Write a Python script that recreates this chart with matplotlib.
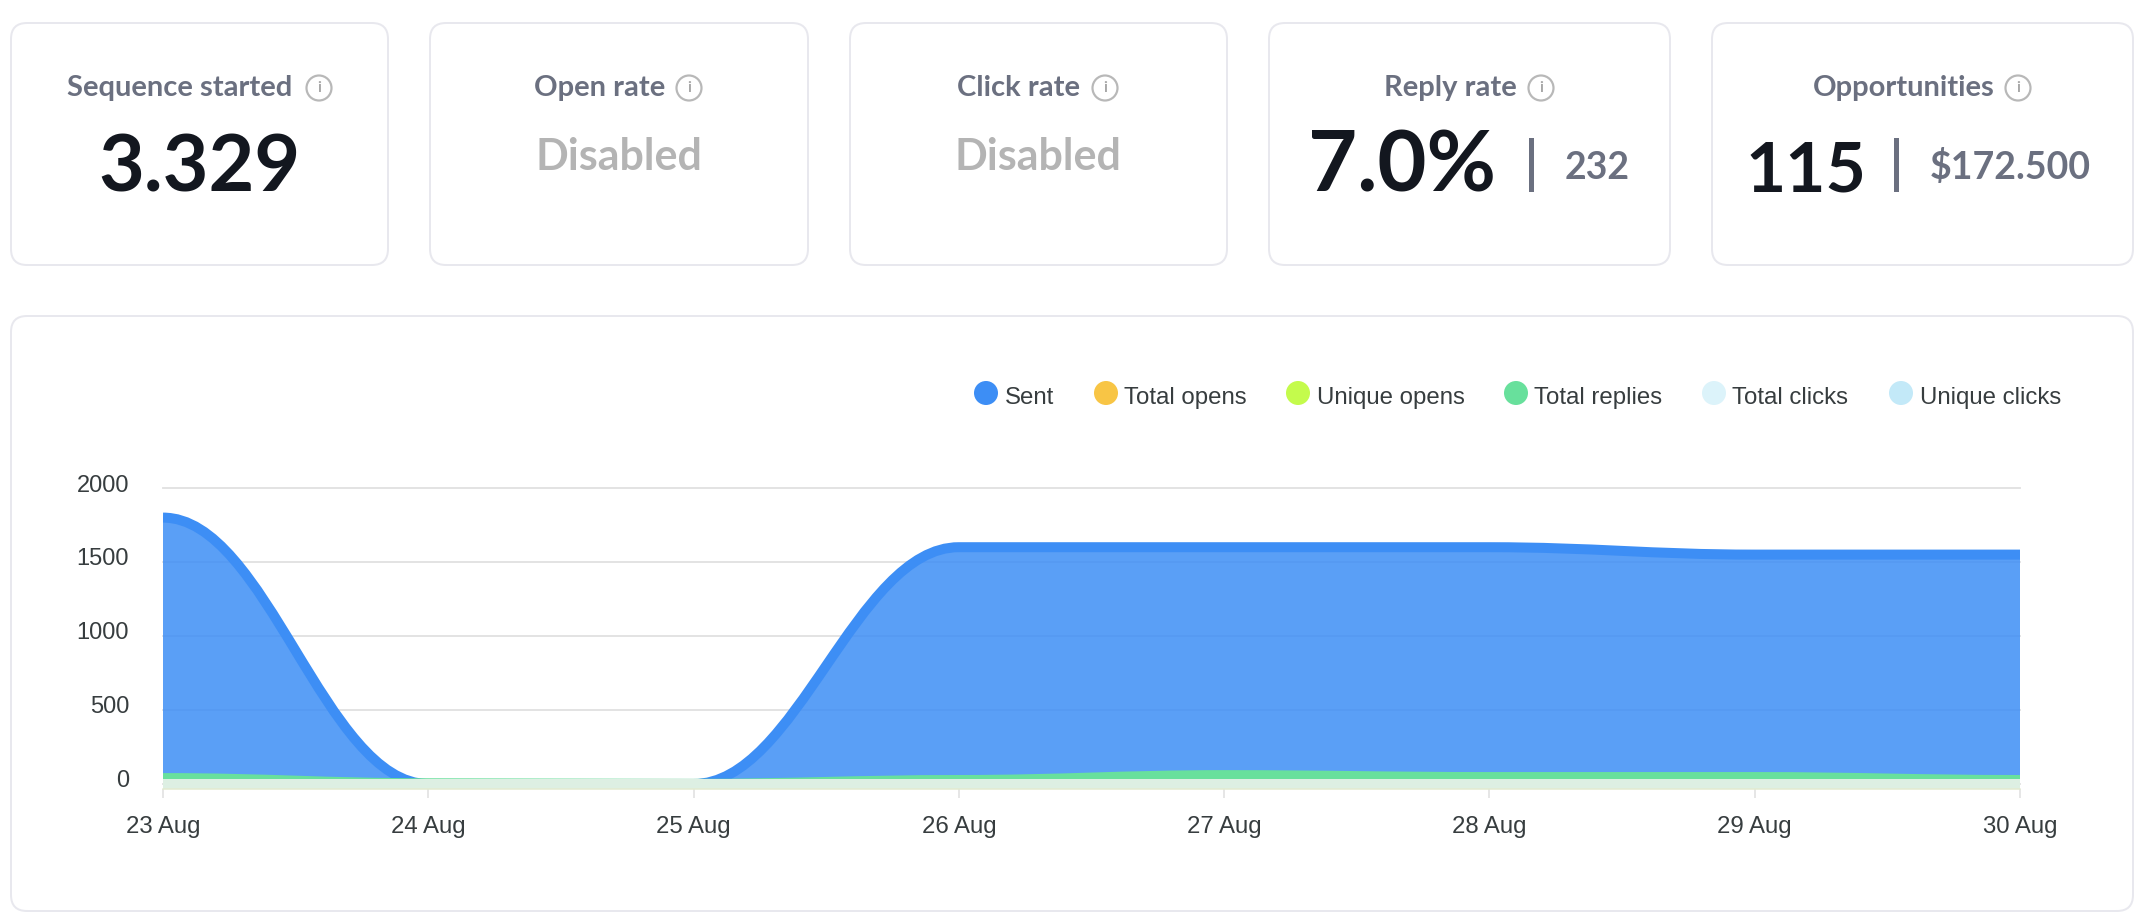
import matplotlib
matplotlib.use("Agg")
import matplotlib.pyplot as plt
from matplotlib.patches import FancyBboxPatch, Circle, PathPatch, Rectangle
from matplotlib.path import Path
from matplotlib.transforms import ScaledTranslation

W, H = 2142, 918
DPI = 100
HEAD = ["Lato", "DejaVu Sans"]
BODY = ["Liberation Sans", "DejaVu Sans"]

days = ["23 Aug", "24 Aug", "25 Aug", "26 Aug", "27 Aug", "28 Aug", "29 Aug", "30 Aug"]
sent = [1800, 0, 0, 1600, 1600, 1600, 1550, 1550]
total_opens = [0, 0, 0, 0, 0, 0, 0, 0]
unique_opens = [0, 0, 0, 0, 0, 0, 0, 0]
total_replies = [40, 5, 1, 27, 60, 47, 47, 27]
total_clicks = [0, 0, 0, 0, 0, 0, 0, 0]
unique_clicks = [0, 0, 0, 0, 0, 0, 0, 0]
y_ticks = [0, 500, 1000, 1500, 2000]
series_names = ["Sent", "Total opens", "Unique opens", "Total replies", "Total clicks", "Unique clicks"]
series_colors = ["#3d8ef5", "#f8c545", "#c4fb4c", "#68e09c", "#dcf3fa", "#c3e9f8"]
card_titles = ["Sequence started", "Open rate", "Click rate", "Reply rate", "Opportunities"]

INK = "#13171f"
SLATE = "#6b7080"
MUTED = "#b4b4b4"
BORDER = "#e8e8ee"
GRID = "#e0e0e0"
LABEL = "#373d3f"
BAND = "#ddefe3"

fig = plt.figure(figsize=(W / DPI, H / DPI), dpi=DPI, facecolor="white")
page = fig.add_axes([0, 0, 1, 1], zorder=0)
page.set_xlim(0, W)
page.set_ylim(H, 0)
page.axis("off")


def px(n):
    return n * 72 / DPI


def box(x0, y0, x1, y1):
    page.add_patch(FancyBboxPatch((x0 + 16, y0 + 16), x1 - x0 - 32, y1 - y0 - 32,
                                  boxstyle="round,pad=16,rounding_size=16",
                                  fc="white", ec=BORDER, lw=px(2)))


def info(x, y):
    page.add_patch(Circle((x, y), 12.5, fc="white", ec="#b8b8b8", lw=px(2.2)))
    page.text(x, y + 0.5, "i", ha="center", va="center", fontsize=11,
              color="#a8a8a8", family=HEAD, fontweight="bold")


cards = [(11, 388), (430, 808), (850, 1227), (1269, 1670), (1712, 2133)]
for c in cards:
    box(c[0], 23, c[1], 265)
box(11, 316, 2133, 911)

title_cx = [179.5, 599.5, 1018.5, 1450, 1903.5]
info_x = [319, 689, 1105, 1541, 2018]
for cx, ix, t in zip(title_cx, info_x, card_titles):
    page.text(cx, 88, t, ha="center", va="center", fontsize=21, color=SLATE,
              family=HEAD, fontweight="bold")
    info(ix, 88)

big = dict(va="baseline", color=INK, family=HEAD, fontweight="bold")
small = dict(va="baseline", fontsize=27, color=SLATE, family=HEAD, fontweight="bold")
page.text(199, 192, "3.329", ha="center", fontsize=57, **big)
for cx in (619, 1038):
    page.text(cx, 170, "Disabled", ha="center", va="baseline", fontsize=31,
              color=MUTED, family=HEAD, fontweight="bold")
page.text(1402, 192, "7.0%", ha="center", fontsize=61, **big)
page.text(1597, 179, "232", ha="center", **small)
page.text(1806, 192, "115", ha="center", fontsize=50, **big)
page.text(2010, 179, "$172.500", ha="center", **small)
for x in (1531, 1896):
    page.add_patch(Rectangle((x - 2.5, 138), 5, 54, fc=SLATE, ec="none"))

legend_dot = [986, 1106, 1298, 1516, 1714, 1901]
legend_txt = [1005, 1124, 1317, 1534, 1732, 1920]
for dx, tx, n, col in zip(legend_dot, legend_txt, series_names, series_colors):
    page.add_patch(Circle((dx, 393), 12, fc=col, ec="none"))
    page.text(tx, 404, n, ha="left", va="baseline", fontsize=17.3, color=LABEL, family=BODY)

# chart area
LEFT, RIGHT, TOP, BOTTOM = 163, 2020, 488, 789
ax = fig.add_axes([LEFT / W, 1 - BOTTOM / H, (RIGHT - LEFT) / W, (BOTTOM - TOP) / H], zorder=1)
ax.patch.set_alpha(0)
ax.set_xlim(0, len(days) - 1)
ax.set_ylim(-33.8, 2000)
TENSION = 0.39


def smooth_path(values, close=False):
    """Bezier through the daily values with flat tangents at each day."""
    verts = [(0, values[0])]
    codes = [Path.MOVETO]
    for i in range(1, len(values)):
        verts += [(i - 1 + TENSION, values[i - 1]), (i - TENSION, values[i]), (i, values[i])]
        codes += [Path.CURVE4] * 3
    if close:
        verts += [(len(values) - 1, 0), (0, 0), (0, 0)]
        codes += [Path.LINETO, Path.LINETO, Path.CLOSEPOLY]
    return Path(verts, codes)


def area(values, color, z, fill_alpha=0.85):
    ax.add_patch(PathPatch(smooth_path(values, True), fc=color, ec="none", alpha=fill_alpha, zorder=z))
    ax.add_patch(PathPatch(smooth_path(values), fc="none", ec=color, lw=px(10),
                           capstyle="butt", zorder=z + 0.1))


area(sent, series_colors[0], 3)
area(total_opens, series_colors[1], 3.2)
area(unique_opens, series_colors[2], 3.4)
area(total_replies, series_colors[3], 3.6)
area(total_clicks, series_colors[4], 3.8)
area(unique_clicks, BAND, 4)

ax.set_yticks(y_ticks)
ax.set_xticks(range(len(days)))
ax.set_xticklabels(days)
ax.set_axisbelow(True)
ax.grid(axis="y", color=GRID, lw=px(1.8))
for g in ax.get_ygridlines():
    g.set_clip_on(False)
for s in ("top", "left", "right"):
    ax.spines[s].set_visible(False)
ax.spines["bottom"].set_color("#e3ebd0")
ax.spines["bottom"].set_linewidth(px(1.5))
ax.spines["bottom"].set_zorder(5)
ax.tick_params(axis="y", length=0, pad=px(34), labelsize=17, labelcolor=LABEL)
ax.tick_params(axis="x", length=px(9), width=px(1.6), color=GRID, pad=px(18.5), labelsize=17.3, labelcolor=LABEL)
for lab in ax.get_yticklabels() + ax.get_xticklabels():
    lab.set_fontfamily(BODY)
for lab in ax.get_yticklabels():
    lab.set_transform(lab.get_transform() + ScaledTranslation(0, 5 / DPI, fig.dpi_scale_trans))

fig.savefig("out.png", dpi=DPI, facecolor="white")
